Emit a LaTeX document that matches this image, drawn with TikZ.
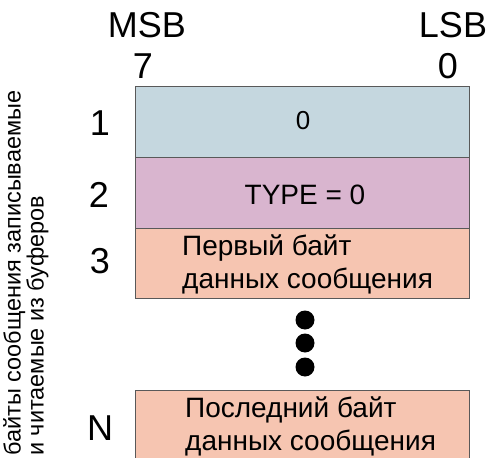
\documentclass[tikz,border=0pt]{standalone}
\usepackage{fontspec}
\setmainfont{Liberation Sans}
\begin{document}
\begin{tikzpicture}[x=1pt,y=-1pt,
  rowbox/.style={draw=black!65,line width=0.8pt},
  big/.style={font=\fontsize{36}{36}\selectfont,inner sep=0pt},
  mid/.style={font=\fontsize{28}{33}\selectfont,inner sep=0pt,align=left},
  zerotext/.style={font=\fontsize{26}{26}\selectfont,inner sep=0pt},
  side/.style={font=\fontsize{23.5}{17.5}\selectfont,inner sep=0pt,align=left,rotate=90},
  dot/.style={circle,fill=black,minimum size=19pt,inner sep=0pt}]
\useasboundingbox (0,0) rectangle (491,458);
\definecolor{rowa}{HTML}{C5D7DF}
\definecolor{rowb}{HTML}{D9B5CF}
\definecolor{rowc}{HTML}{F6C5B1}
% rows
\filldraw[rowbox,fill=rowa] (135,86) rectangle (469,157);
\filldraw[rowbox,fill=rowb] (135,157) rectangle (469,228);
\filldraw[rowbox,fill=rowc] (135,228) rectangle (469,298);
\filldraw[rowbox,fill=rowc] (135,390) rectangle (469,462);
% header
\node[big,anchor=base] (msb) at (147,37) {MSB};
\node[big,anchor=base] (seven) at (143,78) {7};
\node[big,anchor=base] (lsb) at (453,37) {LSB};
\node[big,anchor=base] (zero) at (448,78) {0};
% row numbers
\node[big] (n1) at (100,123) {1};
\node[big] (n2) at (99,195) {2};
\node[big] (n3) at (100,261) {3};
\node[big] (nN) at (100,428) {N};
% row texts
\node[zerotext,anchor=base] (t1) at (303,129.5) {0};
\node[mid] (t2) at (305,195) {TYPE = 0};
\node[mid,anchor=west] (t3) at (182,264) {Первый байт\\данных сообщения};
\node[mid,anchor=west] (tN) at (185,426) {Последний байт\\данных сообщения};
% dots
\node[dot] (d1) at (305,320) {};
\node[dot] (d2) at (305,343) {};
\node[dot] (d3) at (305,367) {};
% side label
\node[side,anchor=north west] (lbl) at (3,456) {байты сообщения записываемые\\и читаемые из буферов};
\end{tikzpicture}
\end{document}
